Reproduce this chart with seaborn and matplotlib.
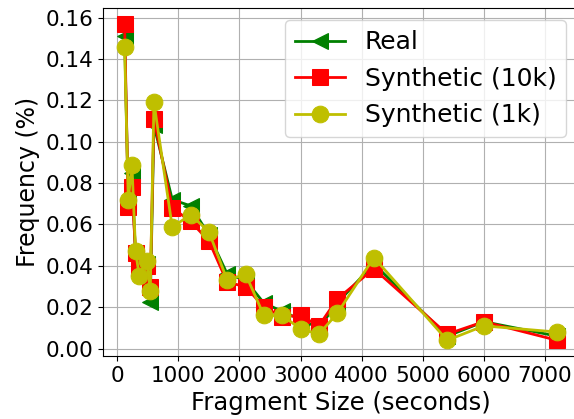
import matplotlib
matplotlib.use('Agg')
import matplotlib.pyplot as plt
import seaborn as sns

# fragment sizes in seconds
sizes = [120, 180, 240, 300, 360, 480, 540, 600, 900, 1200, 1500, 1800,
         2100, 2400, 2700, 3000, 3300, 3600, 4200, 5400, 6000, 7200]

real = [0.151, 0.071, 0.085, 0.044, 0.036, 0.041, 0.0225, 0.108, 0.072, 0.069,
        0.055, 0.036, 0.033, 0.022, 0.018, 0.014, 0.010, 0.022, 0.041,
        0.006, 0.013, 0.006]
syn_10k = [0.157, 0.0686, 0.078, 0.046, 0.039, 0.040, 0.030, 0.111, 0.068, 0.0615,
           0.052, 0.032, 0.030, 0.020, 0.0155, 0.016, 0.011, 0.024, 0.0386,
           0.007, 0.013, 0.004]
syn_1k = [0.146, 0.072, 0.0886, 0.047, 0.035, 0.0425, 0.028, 0.119, 0.0587, 0.0647,
          0.0565, 0.033, 0.036, 0.016, 0.016, 0.0095, 0.007, 0.017, 0.044,
          0.004, 0.011, 0.008]

fig = plt.figure(figsize=(5.74, 4.19), dpi=100)
ax = fig.add_axes([0.1794, 0.150, 0.829, 0.831])

sns.lineplot(x=sizes, y=real, ax=ax, color='g', marker='<', markersize=12,
             markeredgecolor='g', linewidth=2, label='Real')
sns.lineplot(x=sizes, y=syn_10k, ax=ax, color='r', marker='s', markersize=12,
             markeredgecolor='r', linewidth=2, label='Synthetic (10k)')
sns.lineplot(x=sizes, y=syn_1k, ax=ax, color='y', marker='o', markersize=12,
             markeredgecolor='y', linewidth=2, label='Synthetic (1k)')

ax.grid(True, color='#b0b0b0', linewidth=0.8)
ax.set_axisbelow(True)
ax.set_xticks([0, 1000, 2000, 3000, 4000, 5000, 6000, 7000])
ax.set_yticks([0.00, 0.02, 0.04, 0.06, 0.08, 0.10, 0.12, 0.14, 0.16])
ax.set_yticklabels(['0.00', '0.02', '0.04', '0.06', '0.08', '0.10', '0.12', '0.14', '0.16'])
ax.tick_params(labelsize=15.5)
ax.set_xlabel('Fragment Size (seconds)', fontsize=17.5)
ax.set_ylabel('Frequency (%)', fontsize=17)
ax.legend(fontsize=18, loc='upper right')

fig.savefig('out.png', dpi=100)
